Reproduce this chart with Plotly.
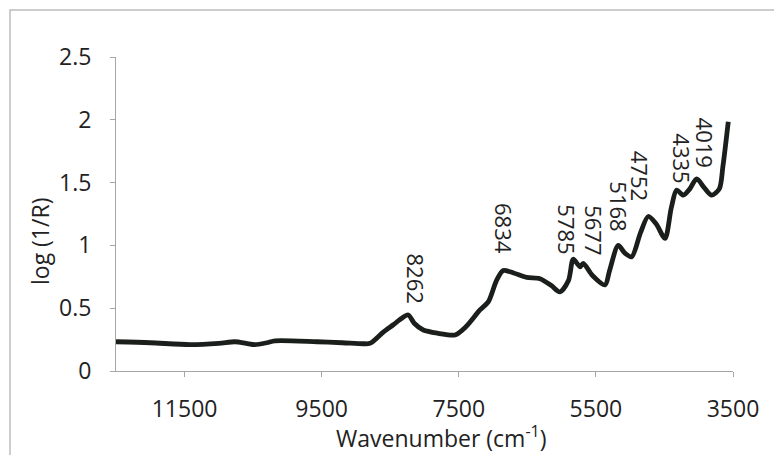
import numpy as np
import plotly.graph_objects as go

wavenumber = [12500, 12000, 11420, 11000, 10764, 10600, 10473, 10300, 10181, 9573, 9200, 8893, 8795,
              8700, 8601, 8450, 8358, 8237, 8150, 8018, 7800, 7555, 7400, 7191, 7070, 6950, 6851,
              6700, 6510, 6316, 6150, 6024, 5900, 5830, 5732, 5684, 5550, 5367, 5300, 5174, 5080,
              4978, 4850, 4736, 4620, 4492, 4400, 4322, 4225, 4130, 4030, 3920, 3811, 3700, 3647, 3569]
log_inv_r = [0.233, 0.225, 0.21, 0.22, 0.233, 0.22, 0.21, 0.225, 0.24, 0.233, 0.225, 0.217, 0.22,
             0.26, 0.31, 0.37, 0.41, 0.446, 0.38, 0.326, 0.30, 0.287, 0.35, 0.486, 0.55, 0.72, 0.80,
             0.78, 0.745, 0.735, 0.68, 0.63, 0.72, 0.89, 0.83, 0.857, 0.76, 0.685, 0.80, 1.0, 0.94,
             0.91, 1.10, 1.23, 1.17, 1.056, 1.30, 1.44, 1.40, 1.45, 1.53, 1.46, 1.40, 1.45, 1.63, 1.985]

peak_labels = ["8262", "6834", "5785", "5677", "5168", "4752", "4335", "4019"]
peak_wn = [8262, 6834, 5785, 5677, 5168, 4752, 4335, 4019]
label_y = [0.525, 0.916, 0.91, 0.908, 1.099, 1.338, 1.48, 1.60]
label_dx = [9, -1, -9, 10, 0, -7, 6, 8]

x_ticks = [11500, 9500, 7500, 5500, 3500]
y_ticks = [0, 0.5, 1, 1.5, 2, 2.5]
y_tick_text = ["0", "0.5", "1", "1.5", "2", "2.5"]

FONT = "Open Sans"
TXT = "#222222"
L, R, T, B = 116, 41, 57, 84
W, H = 774, 455
pw = W - L - R
ph = H - T - B


def px_x(x):
    return (x - L) / pw


def px_y(y):
    return (H - B - y) / ph


fig = go.Figure()
fig.add_trace(go.Scatter(x=wavenumber, y=log_inv_r, mode="lines",
                         line=dict(color="#1b1f1c", width=4.8, shape="spline", smoothing=0.8),
                         hoverinfo="skip", showlegend=False))

for t, xw, yv, dx in zip(peak_labels, peak_wn, label_y, label_dx):
    fig.add_annotation(x=xw, y=yv, xref="x", yref="y", text=t, showarrow=False,
                       textangle=90, xanchor="center", yanchor="bottom", xshift=dx,
                       font=dict(family=FONT, size=22, color=TXT))

fig.add_annotation(x=px_x(441), y=px_y(437), xref="paper", yref="paper",
                   text="Wavenumber (cm<sup>-1</sup>)", showarrow=False,
                   xanchor="center", yanchor="middle",
                   font=dict(family=FONT, size=23, color=TXT))

fig.add_annotation(x=px_x(40), y=px_y(242), xref="paper", yref="paper",
                   text="log (1/R)", textangle=-90, showarrow=False,
                   xanchor="center", yanchor="middle",
                   font=dict(family=FONT, size=23, color=TXT))

fig.update_layout(
    width=W, height=H,
    margin=dict(l=L, r=R, t=T, b=B),
    paper_bgcolor="white", plot_bgcolor="white",
    font=dict(family=FONT, size=22, color=TXT),
    xaxis=dict(range=[12500, 3500], tickvals=x_ticks, ticktext=[str(v) for v in x_ticks],
               showgrid=False, zeroline=False, showline=True, linecolor="#a6a6a6", linewidth=1,
               ticks="outside", ticklen=5, tickcolor="#a6a6a6", ticklabelstandoff=12,
               tickfont=dict(family=FONT, size=23, color=TXT)),
    yaxis=dict(range=[0, 2.5], tickvals=y_ticks, ticktext=y_tick_text,
               showgrid=False, zeroline=False, showline=True, linecolor="#a6a6a6", linewidth=1,
               ticks="outside", ticklen=5, tickcolor="#a6a6a6", ticklabelstandoff=14,
               tickfont=dict(family=FONT, size=23, color=TXT)),
    shapes=[dict(type="rect", xref="paper", yref="paper",
                 x0=px_x(10), x1=px_x(780), y0=px_y(460), y1=px_y(10),
                 line=dict(color="#bdbdbd", width=1.5), layer="below")],
)

fig.write_html("out.html")
